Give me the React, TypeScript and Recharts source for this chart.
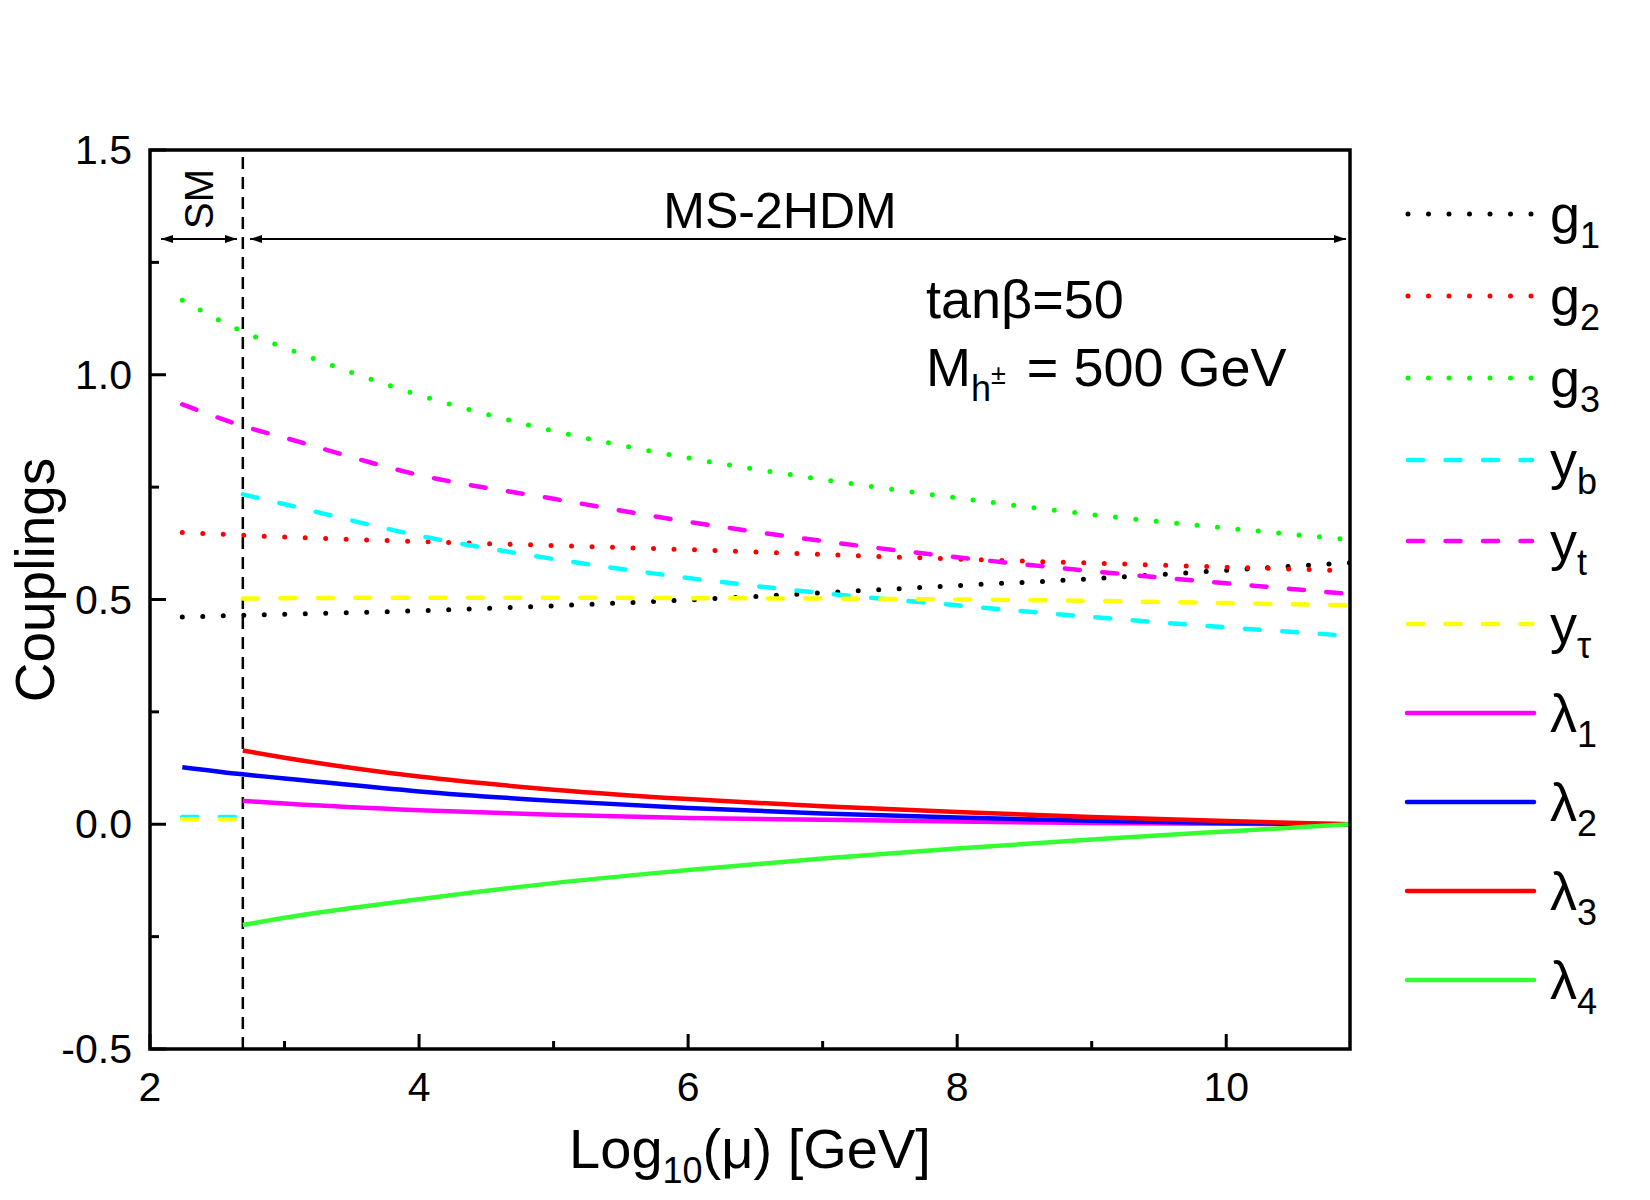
import { LineChart, Line, XAxis, YAxis, ReferenceLine } from 'recharts'

const xs = [2.24, 2.69, 3, 4, 5, 6, 7, 8, 9, 10, 10.92]

const g1 = [0.461, 0.465, 0.467, 0.475, 0.486, 0.499, 0.515, 0.531, 0.546, 0.565, 0.582]
const g2 = [0.649, 0.643, 0.639, 0.629, 0.620, 0.611, 0.600, 0.590, 0.581, 0.572, 0.564]
const g3 = [1.166, 1.096, 1.060, 0.955, 0.875, 0.815, 0.767, 0.726, 0.689, 0.659, 0.633]
const yt = [0.934, 0.886, 0.860, 0.777, 0.724, 0.673, 0.630, 0.594, 0.563, 0.536, 0.512]
const yb = [null, 0.734, 0.712, 0.642, 0.590, 0.548, 0.514, 0.487, 0.461, 0.438, 0.419]
const ybSM = [0.016, 0.016, null, null, null, null, null, null, null, null, null]
const ytau = [null, 0.502, 0.503, 0.504, 0.504, 0.503, 0.502, 0.500, 0.497, 0.492, 0.487]
const ytauSM = [0.011, 0.011, null, null, null, null, null, null, null, null, null]
const lam1 = [null, 0.052, 0.046, 0.031, 0.021, 0.014, 0.010, 0.006, 0.003, 0.001, 0.0]
const lam2 = [0.127, 0.111, 0.102, 0.073, 0.052, 0.036, 0.024, 0.015, 0.008, 0.003, 0.0]
const lam3 = [null, 0.164, 0.148, 0.106, 0.077, 0.056, 0.040, 0.027, 0.016, 0.007, 0.0]
const lam4 = [null, -0.224, -0.208, -0.167, -0.131, -0.102, -0.076, -0.054, -0.034, -0.016, 0.0]

const xTicks = [2, 3, 4, 5, 6, 7, 8, 9, 10]
const yTicks = [-0.5, -0.25, 0, 0.25, 0.5, 0.75, 1, 1.25, 1.5]
const smBoundary = 2.69

const data = xs.map((x, i) => ({
    x,
    g1: g1[i], g2: g2[i], g3: g3[i],
    yt: yt[i], yb: yb[i], ybSM: ybSM[i], ytau: ytau[i], ytauSM: ytauSM[i],
    lam1: lam1[i], lam2: lam2[i], lam3: lam3[i], lam4: lam4[i],
}))

const FONT = '"Liberation Sans", Arial, Helvetica, sans-serif'
const DOT = '0 20.5'
const DASH = '15 22.5'

const legendItems = [
    { sym: 'g', sub: '1', color: '#000000', dash: DOT, y: 214 },
    { sym: 'g', sub: '2', color: '#ff0000', dash: DOT, y: 296 },
    { sym: 'g', sub: '3', color: '#00ff00', dash: DOT, y: 378 },
    { sym: 'y', sub: 'b', color: '#00ffff', dash: DASH, y: 460 },
    { sym: 'y', sub: 't', color: '#ff00ff', dash: DASH, y: 541 },
    { sym: 'y', sub: 'τ', color: '#ffff00', dash: DASH, y: 624 },
    { sym: 'λ', sub: '1', color: '#ff00ff', dash: undefined, y: 713 },
    { sym: 'λ', sub: '2', color: '#0000ff', dash: undefined, y: 802 },
    { sym: 'λ', sub: '3', color: '#ff0000', dash: undefined, y: 891 },
    { sym: 'λ', sub: '4', color: '#33ff33', dash: undefined, y: 980 },
]

const YTick = (props: any) => {
    const { x, y, payload } = props
    const v = payload.value
    const major = Math.abs(v * 2 - Math.round(v * 2)) < 1e-6
    return (
        <g>
            <line x1={x} x2={x + (major ? 16 : 9)} y1={y} y2={y} stroke='#000' strokeWidth={3} />
            {major && (
                <text x={x - 18} y={y + 14} textAnchor='end' fontSize={41} fontFamily={FONT} fill='#000'>
                    {v.toFixed(1)}
                </text>
            )}
        </g>
    )
}

const XTick = (props: any) => {
    const { x, y, payload } = props
    const v = payload.value
    const major = v % 2 === 0
    return (
        <g>
            <line x1={x} x2={x} y1={y} y2={y - (major ? 15 : 8)} stroke='#000' strokeWidth={3} />
            {major && (
                <text x={x} y={y + 52} textAnchor='middle' fontSize={41} fontFamily={FONT} fill='#000'>
                    {v}
                </text>
            )}
        </g>
    )
}

const dotted = { strokeDasharray: DOT, strokeLinecap: 'round' as const, strokeWidth: 5 }
const dashed = { strokeDasharray: DASH, strokeLinecap: 'round' as const, strokeWidth: 4.5 }
const solid = { strokeWidth: 4.5 }

const App = () => {
    return (
        <div style={{ position: 'absolute', left: 0, top: 0, width: 1650, height: 1200, background: '#fff' }}>
            <LineChart width={1650} height={1200} data={data}
                margin={{ top: 150, right: 300, bottom: 91, left: 60 }}>
                <XAxis dataKey='x' type='number' domain={[2, 10.92]} allowDataOverflow
                    ticks={xTicks} interval={0} tick={<XTick />} tickSize={0} tickMargin={0}
                    axisLine={false} tickLine={false} height={60} />
                <YAxis type='number' domain={[-0.5, 1.5]} allowDataOverflow
                    ticks={yTicks} interval={0} tick={<YTick />} tickSize={0} tickMargin={0}
                    axisLine={false} tickLine={false} width={90} />
                <ReferenceLine x={smBoundary} stroke='#000' strokeWidth={2.5} strokeDasharray='12 8' />
                <Line dataKey='g1' stroke='#000000' {...dotted} type='monotone' dot={false} isAnimationActive={false} />
                <Line dataKey='g2' stroke='#ff0000' {...dotted} type='monotone' dot={false} isAnimationActive={false} />
                <Line dataKey='g3' stroke='#00ff00' {...dotted} type='monotone' dot={false} isAnimationActive={false} />
                <Line dataKey='yb' stroke='#00ffff' {...dashed} type='monotone' dot={false} isAnimationActive={false} />
                <Line dataKey='ybSM' stroke='#00ffff' {...dashed} type='monotone' dot={false} isAnimationActive={false} />
                <Line dataKey='yt' stroke='#ff00ff' {...dashed} type='monotone' dot={false} isAnimationActive={false} />
                <Line dataKey='ytau' stroke='#ffff00' {...dashed} type='monotone' dot={false} isAnimationActive={false} />
                <Line dataKey='ytauSM' stroke='#ffff00' {...dashed} type='monotone' dot={false} isAnimationActive={false} />
                <Line dataKey='lam1' stroke='#ff00ff' {...solid} type='monotone' dot={false} isAnimationActive={false} />
                <Line dataKey='lam2' stroke='#0000ff' {...solid} type='monotone' dot={false} isAnimationActive={false} />
                <Line dataKey='lam3' stroke='#ff0000' {...solid} type='monotone' dot={false} isAnimationActive={false} />
                <Line dataKey='lam4' stroke='#33ff33' {...solid} type='monotone' dot={false} isAnimationActive={false} />
            </LineChart>

            {/* frame, annotations, legend */}
            <svg width={1650} height={1200} style={{ position: 'absolute', left: 0, top: 0, pointerEvents: 'none' }}
                fontFamily={FONT}>
                <defs>
                    <marker id='ah' viewBox='0 0 12 8' refX='12' refY='4' markerWidth='12' markerHeight='8'
                        markerUnits='userSpaceOnUse' orient='auto-start-reverse'>
                        <path d='M0,0 L12,4 L0,8 z' fill='#000' />
                    </marker>
                </defs>
                <rect x={150} y={150} width={1200} height={899} fill='none' stroke='#000' strokeWidth={3.5} />

                <line x1={161} x2={237} y1={239} y2={239} stroke='#000' strokeWidth={2}
                    markerStart='url(#ah)' markerEnd='url(#ah)' />
                <line x1={250} x2={1346} y1={239} y2={239} stroke='#000' strokeWidth={2}
                    markerStart='url(#ah)' markerEnd='url(#ah)' />
                <text transform='translate(213,199) rotate(-90)' textAnchor='middle' fontSize={40}>SM</text>
                <text x={780} y={228} textAnchor='middle' fontSize={50}>MS-2HDM</text>

                <text x={926} y={318} fontSize={54}>tanβ=50</text>
                <text x={926} y={386} fontSize={54}>
                    M<tspan fontSize={36} dy={15}>h</tspan><tspan fontSize={27} dy={-17}>±</tspan><tspan dx={6} dy={2}> = 500 GeV</tspan>
                </text>

                <text transform='translate(54,580) rotate(-90)' textAnchor='middle' fontSize={55}>Couplings</text>
                <text x={750} y={1168} textAnchor='middle' fontSize={56}>
                    Log<tspan fontSize={36} dy={15}>10</tspan><tspan dy={-15}>(μ) [GeV]</tspan>
                </text>

                {legendItems.map((it) => (
                    <g key={it.sym + it.sub}>
                        {it.dash === DOT ? (
                            <line x1={1408} x2={1532} y1={it.y} y2={it.y} stroke={it.color} strokeWidth={5}
                                strokeDasharray={DOT} strokeLinecap='round' />
                        ) : it.dash === DASH ? (
                            <line x1={1408} x2={1532} y1={it.y} y2={it.y} stroke={it.color} strokeWidth={4.5}
                                strokeDasharray={DASH} strokeLinecap='round' />
                        ) : (
                            <line x1={1407} x2={1534} y1={it.y} y2={it.y} stroke={it.color} strokeWidth={4.5}
                                strokeLinecap='round' />
                        )}
                        <text x={1550} y={it.y + 19} fontSize={54}>
                            {it.sym}<tspan fontSize={36} dy={15}>{it.sub}</tspan>
                        </text>
                    </g>
                ))}
            </svg>
        </div>
    )
}

export default App
